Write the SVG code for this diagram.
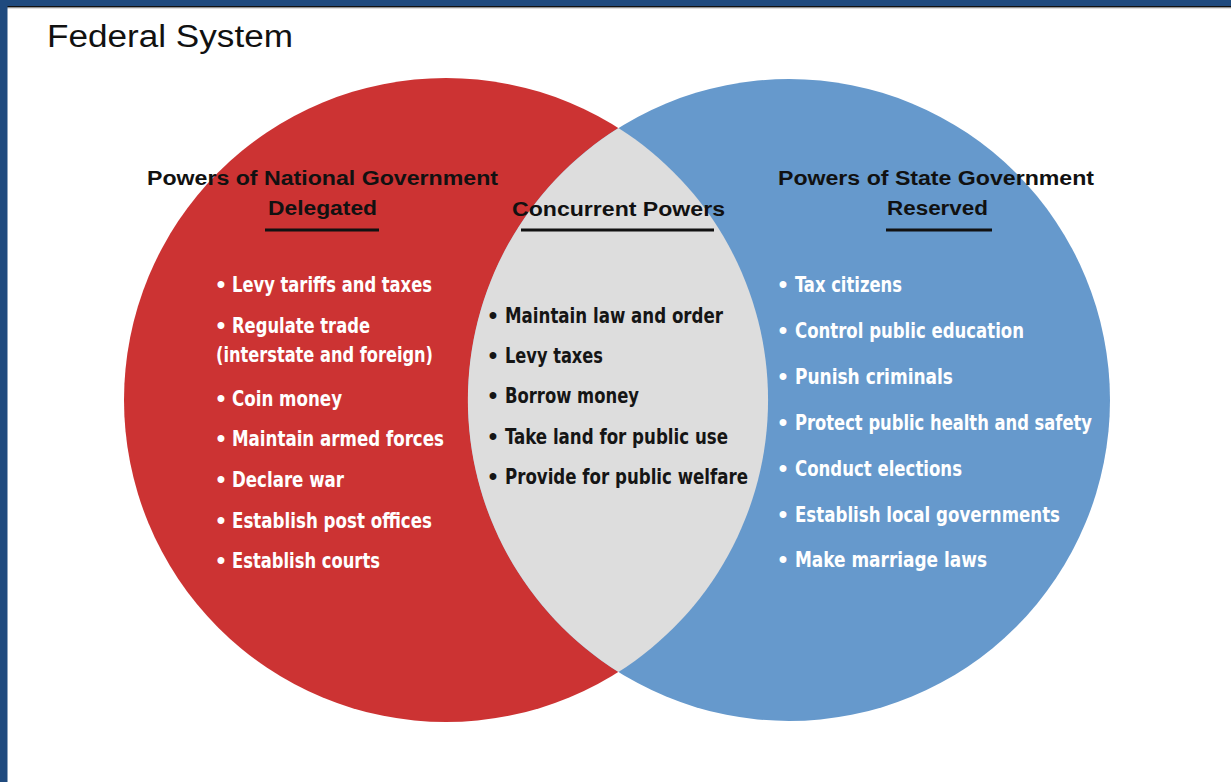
<svg xmlns="http://www.w3.org/2000/svg" width="1231" height="782" viewBox="0 0 1231 782">
<style>
.title{font-family:"Liberation Sans",Arial,sans-serif;font-size:31px;fill:#111}
.head{font-family:"Liberation Sans",Arial,sans-serif;font-weight:bold;font-size:20px;fill:#111}
.item{font-family:"Liberation Sans Narrow","DejaVu Sans Condensed","Liberation Sans",sans-serif;font-weight:bold;font-size:22px}
.bul{font-family:"Liberation Sans",Arial,sans-serif;font-weight:bold;font-size:24px;text-anchor:middle}
.w{fill:#ffffff}
.k{fill:#151515}
.ul{fill:#111}
</style>
<rect x="0" y="0" width="1231" height="782" fill="#ffffff"/>
<rect x="0" y="0" width="1231" height="6" fill="#1f4a7e"/>
<rect x="0" y="6" width="1231" height="1.6" fill="#111"/>
<rect x="0" y="7.6" width="1231" height="1" fill="#c8c8c8"/>
<rect x="0" y="0" width="7.5" height="782" fill="#1f4a7e"/>
<text class="title" x="47" y="47" textLength="246" lengthAdjust="spacingAndGlyphs">Federal System</text>

<g id="national">
<circle cx="446" cy="400" r="322" fill="#cc3333"/>
</g>
<g id="state">
<circle cx="789" cy="400" r="321" fill="#6699cc"/>
</g>
<g id="concurrent">
<path d="M618.4,128 A321,321 0 0 0 618.4,672 A322,322 0 0 0 618.4,128 Z" fill="#dddddd"/>
</g>

<g id="national-text">
<text class="head" x="147" y="185" textLength="351" lengthAdjust="spacingAndGlyphs">Powers of National Government</text>
<text class="head" x="268" y="215" textLength="109" lengthAdjust="spacingAndGlyphs">Delegated</text>
<rect class="ul" x="265" y="228.5" width="114" height="3"/>
<g class="w">
<text class="bul" x="221" y="292">•</text><text class="item" x="232" y="292" textLength="200" lengthAdjust="spacingAndGlyphs">Levy tariffs and taxes</text>
<text class="bul" x="221" y="333">•</text><text class="item" x="232" y="333" textLength="138" lengthAdjust="spacingAndGlyphs">Regulate trade</text>
<text class="item" x="216" y="362" textLength="217" lengthAdjust="spacingAndGlyphs">(interstate and foreign)</text>
<text class="bul" x="221" y="406">•</text><text class="item" x="232" y="406" textLength="110" lengthAdjust="spacingAndGlyphs">Coin money</text>
<text class="bul" x="221" y="446">•</text><text class="item" x="232" y="446" textLength="212" lengthAdjust="spacingAndGlyphs">Maintain armed forces</text>
<text class="bul" x="221" y="487">•</text><text class="item" x="232" y="487" textLength="112" lengthAdjust="spacingAndGlyphs">Declare war</text>
<text class="bul" x="221" y="528">•</text><text class="item" x="232" y="528" textLength="200" lengthAdjust="spacingAndGlyphs">Establish post offices</text>
<text class="bul" x="221" y="568">•</text><text class="item" x="232" y="568" textLength="148" lengthAdjust="spacingAndGlyphs">Establish courts</text>
</g>
</g>

<g id="concurrent-text">
<text class="head" x="512" y="216" textLength="213" lengthAdjust="spacingAndGlyphs">Concurrent Powers</text>
<rect class="ul" x="521" y="228.5" width="193" height="3"/>
<g class="k">
<text class="bul" x="493" y="323">•</text><text class="item" x="505" y="323" textLength="218" lengthAdjust="spacingAndGlyphs">Maintain law and order</text>
<text class="bul" x="493" y="363">•</text><text class="item" x="505" y="363" textLength="98" lengthAdjust="spacingAndGlyphs">Levy taxes</text>
<text class="bul" x="493" y="403">•</text><text class="item" x="505" y="403" textLength="134" lengthAdjust="spacingAndGlyphs">Borrow money</text>
<text class="bul" x="493" y="444">•</text><text class="item" x="505" y="444" textLength="223" lengthAdjust="spacingAndGlyphs">Take land for public use</text>
<text class="bul" x="493" y="484">•</text><text class="item" x="505" y="484" textLength="243" lengthAdjust="spacingAndGlyphs">Provide for public welfare</text>
</g>
</g>

<g id="state-text">
<text class="head" x="778" y="185" textLength="316" lengthAdjust="spacingAndGlyphs">Powers of State Government</text>
<text class="head" x="887" y="215" textLength="101" lengthAdjust="spacingAndGlyphs">Reserved</text>
<rect class="ul" x="886" y="228.5" width="106" height="3"/>
<g class="w">
<text class="bul" x="783" y="292">•</text><text class="item" x="795" y="292" textLength="107" lengthAdjust="spacingAndGlyphs">Tax citizens</text>
<text class="bul" x="783" y="338">•</text><text class="item" x="795" y="338" textLength="229" lengthAdjust="spacingAndGlyphs">Control public education</text>
<text class="bul" x="783" y="384">•</text><text class="item" x="795" y="384" textLength="158" lengthAdjust="spacingAndGlyphs">Punish criminals</text>
<text class="bul" x="783" y="430">•</text><text class="item" x="795" y="430" textLength="297" lengthAdjust="spacingAndGlyphs">Protect public health and safety</text>
<text class="bul" x="783" y="476">•</text><text class="item" x="795" y="476" textLength="167" lengthAdjust="spacingAndGlyphs">Conduct elections</text>
<text class="bul" x="783" y="522">•</text><text class="item" x="795" y="522" textLength="265" lengthAdjust="spacingAndGlyphs">Establish local governments</text>
<text class="bul" x="783" y="567">•</text><text class="item" x="795" y="567" textLength="192" lengthAdjust="spacingAndGlyphs">Make marriage laws</text>
</g>
</g>
</svg>
